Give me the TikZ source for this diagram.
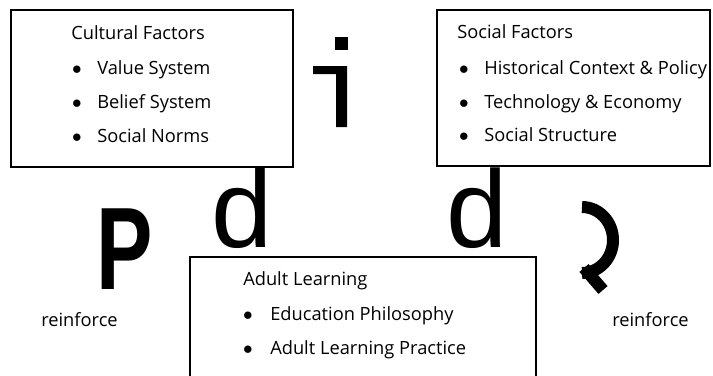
\documentclass[tikz,border=0pt]{standalone}
\usepackage{fontspec}
\setmainfont{Open Sans}
\newfontfamily\glyphfont{Liberation Sans}
\usepackage{tikz}
\tikzset{
	boxstyle/.style={draw=black,line width=1.2pt},
	textstyle/.style={anchor=base west,inner sep=0pt},
	bulletstyle/.style={anchor=base,inner sep=0pt},
	glyphstyle/.style={anchor=base west,inner sep=0pt,font=\glyphfont\fontsize{82.5}{82.5}\selectfont},
	markstyle/.style={line width=9pt}
}

\begin{document}
\begin{tikzpicture}[x=0.75pt,y=-0.75pt]
		\fontsize{13.7}{16}\selectfont
		\useasboundingbox (0,0) rectangle (713,375);
		\clip (0,0) rectangle (713,375);
		% the three boxes
		\draw[boxstyle] (11,10) rectangle (293,167);
		\draw[boxstyle] (437,10) rectangle (710,166);
		\draw[boxstyle] (190,257) rectangle (536,390);
		% cultural factors
		\node[textstyle] (cult) at (71,39) {Cultural Factors};
		\node[bulletstyle] (cultbA) at (77,74) {$\bullet$};
		\node[textstyle] (cultA) at (97,74) {Value System};
		\node[bulletstyle] (cultbB) at (77,108) {$\bullet$};
		\node[textstyle] (cultB) at (97,108) {Belief System};
		\node[bulletstyle] (cultbC) at (77,142) {$\bullet$};
		\node[textstyle] (cultC) at (97,142) {Social Norms};
		% social factors
		\node[textstyle] (soc) at (457,38) {Social Factors};
		\node[bulletstyle] (socbA) at (464,74) {$\bullet$};
		\node[textstyle] (socA) at (484,74) {Historical Context \& Policy};
		\node[bulletstyle] (socbB) at (464,108) {$\bullet$};
		\node[textstyle] (socB) at (484,108) {Technology \& Economy};
		\node[bulletstyle] (socbC) at (464,141) {$\bullet$};
		\node[textstyle] (socC) at (484,141) {Social Structure};
		% adult learning
		\node[textstyle] (adult) at (243,285) {Adult Learning};
		\node[bulletstyle] (adultbA) at (248,320) {$\bullet$};
		\node[textstyle] (adultA) at (270,320) {Education Philosophy};
		\node[bulletstyle] (adultbB) at (248,354) {$\bullet$};
		\node[textstyle] (adultB) at (270,354) {Adult Learning Practice};
		\node[textstyle] (reinfl) at (41,326) {reinforce};
		\node[textstyle] (reinfr) at (612,326) {reinforce};
		% big marks between the boxes
		\node[glyphstyle] (dl) at (211,247) {d};
		\node[glyphstyle] (dr) at (446,247) {d};
		\node[glyphstyle,font=\glyphfont\bfseries\fontsize{88}{88}\selectfont] (pl) at (96,289) {\scalebox{0.72}[1]{P}};
		\fill (335,37) rectangle (348,50);
		\fill (313,66) -- (347,66) -- (347,127) -- (336,127) -- (336,74) -- (313,74) -- cycle;
		\draw[markstyle] (582,207) arc[start angle=-90,end angle=90,x radius=31,y radius=33];
		\draw[markstyle] (584,268) -- (603,290);
\end{tikzpicture}
\end{document}
